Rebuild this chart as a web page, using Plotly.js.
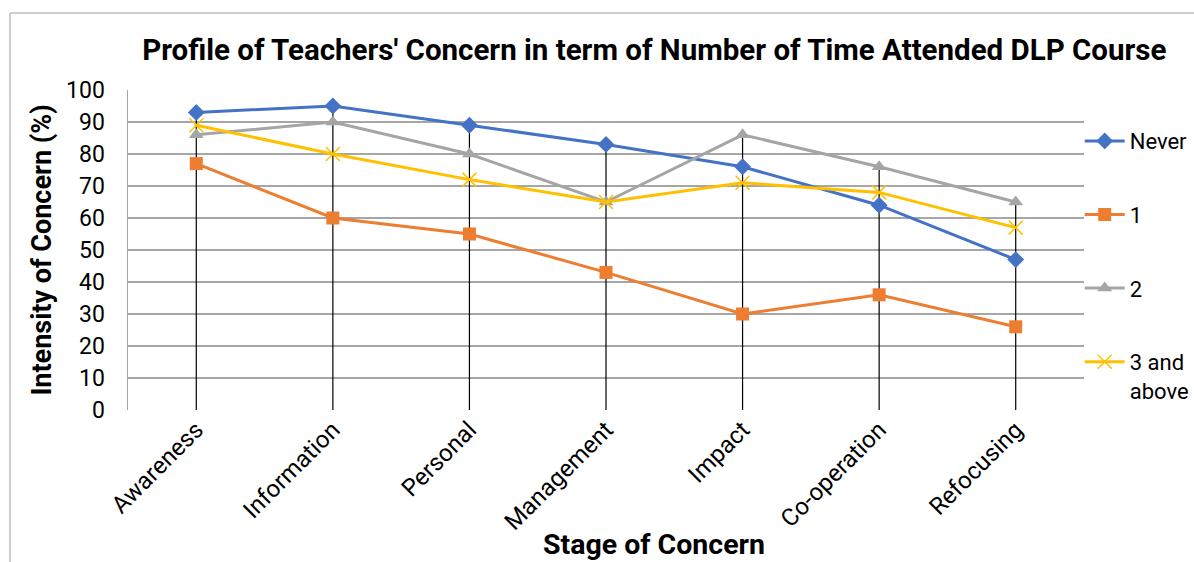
<!DOCTYPE html>
<html>
<head>
<meta charset="utf-8">
<script src="https://cdn.plot.ly/plotly-3.0.1.min.js"></script>
<style>html,body{margin:0;padding:0;background:#fff;}#chart{width:1194px;height:562px;}</style>
</head>
<body>
<div id="chart"></div>
<script>
var categories = ["Awareness", "Information", "Personal", "Management", "Impact", "Co-operation", "Refocusing"];
var never = [93, 95, 89, 83, 76, 64, 47];
var once = [77, 60, 55, 43, 30, 36, 26];
var twice = [86, 90, 80, 65, 86, 76, 65];
var threePlus = [89, 80, 72, 65, 71, 68, 57];
var seriesNames = ["Never", "1", "2", "3 and<br>above"];
var yTicks = [0, 10, 20, 30, 40, 50, 60, 70, 80, 90, 100];

var FONT = "Roboto, 'Open Sans', sans-serif";

// drop lines from highest point to the axis
var dx = [], dy = [];
categories.forEach(function (c, i) {
  var m = Math.max(never[i], once[i], twice[i], threePlus[i]);
  dx.push(c, c, null);
  dy.push(m, 0, null);
});

var traces = [
  {x: dx, y: dy, type: "scatter", mode: "lines", line: {color: "#000", width: 1.2},
   showlegend: false, hoverinfo: "skip"},
  {x: categories, y: never, name: seriesNames[0], type: "scatter", mode: "lines+markers",
   line: {color: "#4472C4", width: 3}, marker: {symbol: "diamond", size: 13, color: "#4472C4"},
   legendgroup: "a"},
  {x: categories, y: once, name: seriesNames[1], type: "scatter", mode: "lines+markers",
   line: {color: "#ED7D31", width: 3}, marker: {symbol: "square", size: 13, color: "#ED7D31"},
   legendgroup: "b"},
  {x: categories, y: twice, name: seriesNames[2], type: "scatter", mode: "lines+markers",
   line: {color: "#A5A5A5", width: 3}, marker: {symbol: "triangle-up", size: 13, color: "#A5A5A5"},
   legendgroup: "c"},
  {x: categories, y: threePlus, name: seriesNames[3], type: "scatter", mode: "lines+markers",
   line: {color: "#FFC000", width: 3},
   marker: {symbol: "x-thin-open", size: 14, color: "#FFC000", line: {color: "#FFC000", width: 1.5}},
   legendgroup: "d"}
];

var layout = {
  width: 1194, height: 562,
  margin: {l: 128, r: 110, t: 90, b: 152, autoexpand: false},
  paper_bgcolor: "#fff", plot_bgcolor: "#fff",
  font: {family: FONT, size: 22, color: "#000"},
  title: {text: "<b>Profile of Teachers' Concern in term of Number of Time Attended DLP Course</b>",
          font: {family: FONT, size: 29.5, color: "#000"},
          x: 0.548, xanchor: "center", y: 0.912, yanchor: "middle"},
  xaxis: {type: "category", range: [-0.5, 6.5], tickangle: -45, showgrid: false,
          showline: false, zeroline: false, ticks: "", tickfont: {family: FONT, size: 24, color: "#000"}},
  yaxis: {range: [0, 100], tickvals: yTicks, ticktext: yTicks.map(String),
          showgrid: true, gridcolor: "#a6a6a6", gridwidth: 1.5,
          showline: true, linecolor: "#a6a6a6", linewidth: 1.5, zeroline: false, ticks: "",
          ticklen: 0, ticklabelstandoff: 17, tickfont: {family: FONT, size: 23, color: "#000"},
          title: {text: "<b>Intensity of Concern (%)</b>", font: {family: FONT, size: 27, color: "#000"}, standoff: 6}},
  legend: {x: 0.9955, xanchor: "left", y: 0.906, yanchor: "top", tracegroupgap: 42, valign: "top",
           font: {family: FONT, size: 22, color: "#000"}, bgcolor: "rgba(0,0,0,0)", itemwidth: 40},
  annotations: [
    {text: "<b>Stage of Concern</b>", xref: "paper", yref: "paper", x: 0.55, y: -0.42,
     xanchor: "center", yanchor: "middle", showarrow: false, font: {family: FONT, size: 28.5, color: "#000"}}
  ],
  shapes: [
    {type: "line", xref: "paper", yref: "paper", x0: -0.1234, x1: 1.2, y0: 1.2406, y1: 1.2406,
     line: {color: "#bfbfbf", width: 1.5}},
    {type: "line", xref: "paper", yref: "paper", x0: -0.1234, x1: -0.1234, y0: -0.6, y1: 1.2406,
     line: {color: "#bfbfbf", width: 1.5}}
  ]
};

Plotly.newPlot("chart", traces, layout, {displayModeBar: false, staticPlot: true});
</script>
</body>
</html>
